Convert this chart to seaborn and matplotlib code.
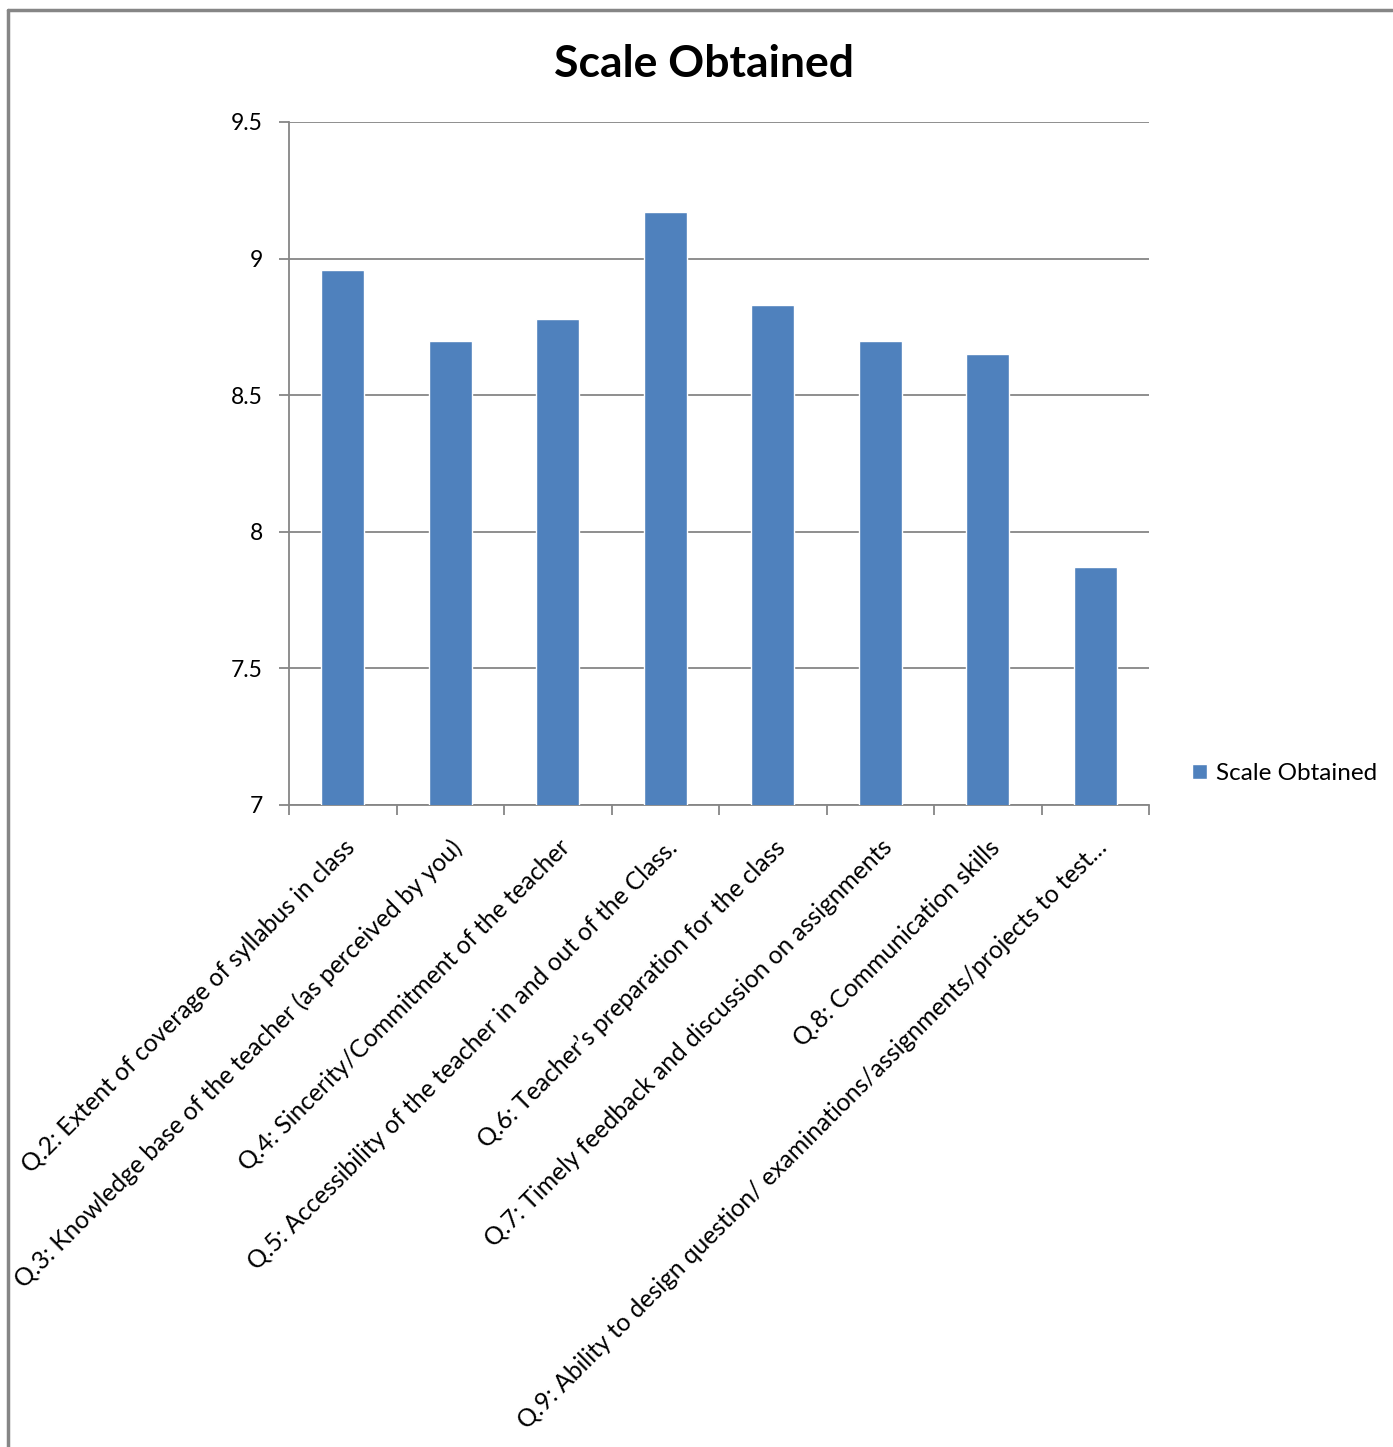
import matplotlib
matplotlib.use("Agg")
import matplotlib.pyplot as plt
import seaborn as sns
import pandas as pd
from matplotlib.lines import Line2D

categories = [
    "Q.2: Extent of coverage of syllabus in class",
    "Q.3: Knowledge base of the teacher (as perceived by you)",
    "Q.4: Sincerity/Commitment of the teacher",
    "Q.5: Accessibility of the teacher in and out of the Class.",
    "Q.6: Teacher\u2019s preparation for the class",
    "Q.7: Timely feedback and discussion on assignments",
    "Q.8: Communication skills",
    "Q.9: Ability to design question/ examinations/assignments/projects to test\u2026",
]
values = [8.96, 8.70, 8.78, 9.17, 8.83, 8.70, 8.65, 7.87]
series_name = "Scale Obtained"
yticks = [7, 7.5, 8, 8.5, 9, 9.5]
ytick_labels = ["7", "7.5", "8", "8.5", "9", "9.5"]

sns.set_theme(style="white")
plt.rcParams["font.family"] = ["Lato", "DejaVu Sans"]
plt.rcParams["text.color"] = "black"
plt.rcParams["xtick.labelcolor"] = "black"
plt.rcParams["ytick.labelcolor"] = "black"

df = pd.DataFrame({"cat": categories, "val": values})

fig = plt.figure(figsize=(13.93, 14.47), dpi=100)
ax = fig.add_axes([0.2075, 0.4437, 0.6174, 0.472])

sns.barplot(data=df, x="cat", y="val", color="#4F81BD", saturation=1,
            width=0.4, label=series_name, ax=ax, zorder=3)

grid_c = "#868686"
ax.set_ylim(7, 9.5)
ax.set_xlim(-0.5, len(categories) - 0.5)
ax.set_yticks(yticks)
ax.set_yticklabels(ytick_labels, fontsize=16.5, color="black")
ax.yaxis.grid(True, color=grid_c, linewidth=1.3, zorder=0)
ax.set_axisbelow(True)

# x ticks at category boundaries, labels at centres
ax.set_xticks([i - 0.5 for i in range(len(categories) + 1)])
ax.set_xticklabels([])
ax.set_xticks(range(len(categories)), minor=True)
ax.set_xticklabels(categories, minor=True, rotation=45, ha="right", va="top",
                   rotation_mode="anchor", fontsize=17.7, color="black")
ax.tick_params(axis="x", which="major", direction="out", length=7, width=1.3,
               color=grid_c, bottom=True)
ax.tick_params(axis="x", which="minor", length=0, pad=22)
ax.tick_params(axis="y", direction="out", length=7, width=1.3, color=grid_c,
               left=True, pad=12)
ax.set_xlabel("")
ax.set_ylabel("")

for side in ["top", "right"]:
    ax.spines[side].set_visible(False)
for side in ["left", "bottom"]:
    ax.spines[side].set_color(grid_c)
    ax.spines[side].set_linewidth(1.3)

fig.text(704 / 1393, 1 - 77 / 1447, series_name, fontsize=32, fontweight="bold",
         ha="center", va="baseline", color="black")

leg = ax.legend(loc="center left", bbox_to_anchor=(1.025, 0.046), frameon=False,
                fontsize=17.5, handlelength=0.6, handleheight=0.6,
                handletextpad=0.35)

# outer chart frame (top and left edges visible)
fig.add_artist(Line2D([8 / 1393, 8 / 1393], [0, 1 - 10 / 1447],
                      transform=fig.transFigure, color=grid_c, linewidth=2.5))
fig.add_artist(Line2D([8 / 1393, 1392 / 1393], [1 - 10 / 1447, 1 - 10 / 1447],
                      transform=fig.transFigure, color=grid_c, linewidth=2.5))

fig.savefig("out.png", dpi=100)
